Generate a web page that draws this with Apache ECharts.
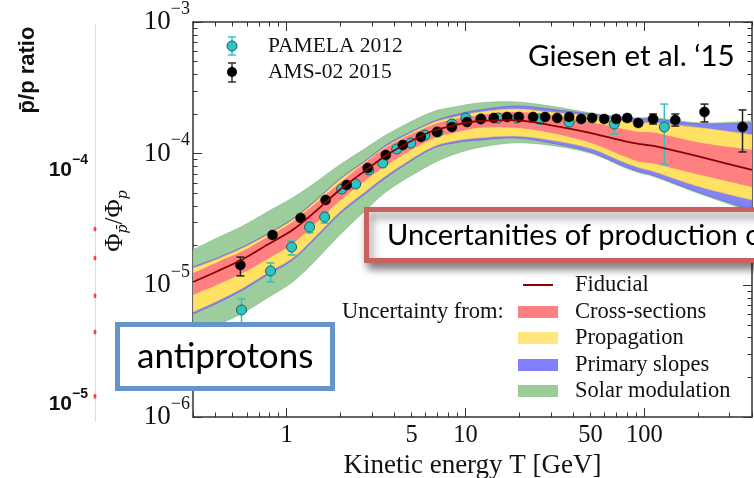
<!DOCTYPE html>
<html><head><meta charset="utf-8">
<script src="https://cdn.jsdelivr.net/npm/echarts@6/dist/echarts.min.js"></script>
<style>html,body{margin:0;padding:0;background:#fff}#c{width:754px;height:478px}</style>
</head><body><div id="c"></div>
<script>
// ---------- data ----------
const bandT      = [0.3, 0.41, 0.57, 0.78, 1.08, 1.44, 1.98, 2.74, 3.78, 6.33, 8.73, 12.1, 18.9, 29.7, 49.8, 76.3, 95, 115, 206, 400];
const fiducial   = [1.06e-5,1.28e-5,1.58e-5,2.03e-5,2.63e-5,3.61e-5,5.30e-5,7.39e-5,1.01e-4,1.46e-4,1.65e-4,1.77e-4,1.80e-4,1.65e-4,1.44e-4,1.25e-4,1.18e-4,1.14e-4,9.44e-5,7.52e-5];
const crossHigh  = [1.24e-5,1.50e-5,1.82e-5,2.33e-5,3.03e-5,4.15e-5,5.99e-5,8.50e-5,1.16e-4,1.62e-4,1.83e-4,1.97e-4,2.07e-4,1.97e-4,1.74e-4,1.54e-4,1.46e-4,1.44e-4,1.21e-4,1.07e-4];
const crossLow   = [8.45e-6,1.01e-5,1.24e-5,1.58e-5,2.06e-5,2.92e-5,4.37e-5,6.20e-5,8.50e-5,1.27e-4,1.44e-4,1.57e-4,1.57e-4,1.44e-4,1.21e-4,9.60e-5,8.65e-5,8.35e-5,6.89e-5,5.58e-5];
const propHigh   = [1.35e-5,1.58e-5,1.92e-5,2.41e-5,3.13e-5,4.30e-5,6.31e-5,8.65e-5,1.18e-4,1.68e-4,1.90e-4,2.07e-4,2.18e-4,2.07e-4,1.93e-4,1.77e-4,1.71e-4,1.71e-4,1.57e-4,1.39e-4];
const propLow    = [6.28e-6,7.61e-6,9.55e-6,1.24e-5,1.61e-5,2.33e-5,3.61e-5,5.12e-5,7.13e-5,1.10e-4,1.25e-4,1.32e-4,1.36e-4,1.27e-4,1.10e-4,8.65e-5,7.79e-5,7.26e-5,5.58e-5,4.45e-5];
const slopeHigh  = [1.38e-5,1.61e-5,1.96e-5,2.45e-5,3.19e-5,4.37e-5,6.42e-5,8.80e-5,1.21e-4,1.71e-4,1.97e-4,2.15e-4,2.30e-4,2.18e-4,2.00e-4,1.87e-4,1.83e-4,1.83e-4,1.68e-4,1.71e-4];
const slopeLow   = [6.06e-6,7.34e-6,9.22e-6,1.20e-5,1.56e-5,2.25e-5,3.48e-5,4.94e-5,6.89e-5,1.07e-4,1.21e-4,1.27e-4,1.32e-4,1.21e-4,1.03e-4,8.06e-5,7.26e-5,6.77e-5,5.03e-5,3.73e-5];
const solarHigh  = [1.86e-5,2.29e-5,2.82e-5,3.61e-5,4.61e-5,5.99e-5,8.21e-5,1.09e-4,1.44e-4,2.04e-4,2.26e-4,2.43e-4,2.47e-4,2.30e-4,2.04e-4,1.90e-4,1.87e-4,1.87e-4,1.71e-4,1.77e-4];
const solarLow   = [4.20e-6,5.00e-6,6.17e-6,8.02e-6,1.06e-5,1.53e-5,2.41e-5,3.67e-5,5.39e-5,8.21e-5,9.94e-5,1.12e-4,1.21e-4,1.16e-4,1.01e-4,7.92e-5,7.13e-5,6.65e-5,4.94e-5,3.61e-5];

const pamelaT  = [0.560,0.814,1.067,1.345,1.633,2.033,2.435,2.88,3.45,4.13,4.95,5.93,7.01,8.40,10.06,12.2,15.2,19.4,26.1,38.0,67.9,129.4];
const pamelaR  = [6.50e-6,1.285e-5,1.955e-5,2.77e-5,3.30e-5,5.39e-5,5.88e-5,7.52e-5,8.49e-5,1.085e-4,1.205e-4,1.386e-4,1.461e-4,1.68e-4,1.866e-4,1.834e-4,1.866e-4,1.866e-4,1.834e-4,1.74e-4,1.68e-4,1.594e-4];
const pamelaLo = [5.0e-6,1.06e-5,1.70e-5,2.50e-5,2.97e-5,5.1e-5,5.6e-5,7.1e-5,8.0e-5,1.03e-4,1.14e-4,1.31e-4,1.38e-4,1.59e-4,1.77e-4,1.74e-4,1.77e-4,1.77e-4,1.68e-4,1.567e-4,1.41e-4,8.34e-5];
const pamelaHi = [7.87e-6,1.478e-5,2.17e-5,3.03e-5,3.61e-5,5.7e-5,6.2e-5,7.9e-5,9.0e-5,1.14e-4,1.27e-4,1.46e-4,1.54e-4,1.77e-4,1.96e-4,1.93e-4,1.96e-4,1.96e-4,1.97e-4,1.93e-4,1.90e-4,2.38e-4];

const amsT  = [0.552,0.835,1.198,1.654,2.169,2.843,3.586,4.466,5.633,6.924,8.40,10.2,12.2,14.4,17.1,19.9,23.9,27.9,32.6,38.0,44.4,51.1,59.7,69.7,80.3,92.5,112,149,217,354];
const amsR  = [1.427e-5,2.41e-5,3.25e-5,4.45e-5,5.78e-5,7.78e-5,9.77e-5,1.163e-4,1.338e-4,1.461e-4,1.594e-4,1.74e-4,1.834e-4,1.866e-4,1.899e-4,1.90e-4,1.90e-4,1.90e-4,1.866e-4,1.90e-4,1.834e-4,1.866e-4,1.834e-4,1.834e-4,1.866e-4,1.71e-4,1.834e-4,1.80e-4,2.07e-4,1.594e-4];
const amsLo = [1.18e-5,2.30e-5,3.13e-5,4.30e-5,5.60e-5,7.55e-5,9.50e-5,1.13e-4,1.30e-4,1.42e-4,1.55e-4,1.69e-4,1.78e-4,1.81e-4,1.84e-4,1.84e-4,1.84e-4,1.84e-4,1.80e-4,1.83e-4,1.76e-4,1.79e-4,1.75e-4,1.74e-4,1.76e-4,1.62e-4,1.68e-4,1.62e-4,1.74e-4,1.03e-4];
const amsHi = [1.64e-5,2.52e-5,3.37e-5,4.60e-5,5.96e-5,8.01e-5,1.00e-4,1.20e-4,1.38e-4,1.50e-4,1.64e-4,1.79e-4,1.89e-4,1.92e-4,1.96e-4,1.96e-4,1.96e-4,1.97e-4,1.94e-4,1.98e-4,1.92e-4,1.96e-4,1.94e-4,1.95e-4,1.98e-4,1.81e-4,2.00e-4,2.00e-4,2.38e-4,2.15e-4];

// partially visible neighbouring panel (p-bar/p ratio)
const leftPanelR = [5.60e-5,4.21e-5,2.90e-5,2.03e-5,1.08e-5];

// tick labels
const xTickLabels = [1, 5, 10, 50, 100];
const yTickLabels = [1e-6, 1e-5, 1e-4, 1e-3];
const leftPanelTicks = [1e-5, 1e-4];
const xRange = [0.3, 400];
const yRange = [1e-6, 1e-3];

// ---------- helpers ----------
const L = Math.log10;
const xMajor = [1, 10, 100].map(L);
const xMinor = [];
[0.1, 1, 10, 100].forEach(d => { for (let k = 2; k <= 9; k++) { const v = k * d; if (v >= xRange[0] && v <= xRange[1]) xMinor.push(L(v)); } });
const yMajor = yTickLabels.map(L);
const yMinor = [];
[1e-6, 1e-5, 1e-4].forEach(d => { for (let k = 2; k <= 9; k++) yMinor.push(L(k * d)); });

function crPath(pts, move) {
  let d = (move ? 'M' : 'L') + pts[0][0] + ',' + pts[0][1];
  for (let i = 0; i < pts.length - 1; i++) {
    const p0 = pts[Math.max(0, i - 1)], p1 = pts[i], p2 = pts[i + 1], p3 = pts[Math.min(pts.length - 1, i + 2)];
    const c1 = [p1[0] + (p2[0] - p0[0]) / 6, p1[1] + (p2[1] - p0[1]) / 6];
    const c2 = [p2[0] - (p3[0] - p1[0]) / 6, p2[1] - (p3[1] - p1[1]) / 6];
    d += ' C' + c1[0] + ',' + c1[1] + ' ' + c2[0] + ',' + c2[1] + ' ' + p2[0] + ',' + p2[1];
  }
  return d;
}
function bandSeries(name, lo, hi, fill, stroke, lw) {
  return {
    type: 'custom', name, xAxisIndex: 0, yAxisIndex: 0, silent: true, clip: true,
    data: [[L(bandT[0]), L(hi[0])]],
    renderItem: (params, api) => {
      const up = bandT.map((t, i) => api.coord([L(t), L(hi[i])]));
      const dn = bandT.map((t, i) => api.coord([L(t), L(lo[i])])).reverse();
      const d = crPath(up, true) + ' ' + crPath(dn, false) + ' Z';
      return { type: 'path', shape: { pathData: d }, style: { fill, stroke, lineWidth: lw } };
    }
  };
}
function errSeries(T, lo, hi, color) {
  return {
    type: 'custom', xAxisIndex: 0, yAxisIndex: 0, silent: true, clip: true,
    data: T.map((t, i) => [L(t), L(lo[i]), L(hi[i])]),
    encode: { x: 0, y: [1, 2] },
    renderItem: (params, api) => {
      const x = api.value(0);
      const a = api.coord([x, api.value(1)]);
      const b = api.coord([x, api.value(2)]);
      const w = 4, st = { stroke: color, lineWidth: 1.5 };
      return { type: 'group', children: [
        { type: 'line', shape: { x1: a[0], y1: a[1], x2: b[0], y2: b[1] }, style: st },
        { type: 'line', shape: { x1: a[0] - w, y1: a[1], x2: a[0] + w, y2: a[1] }, style: st },
        { type: 'line', shape: { x1: b[0] - w, y1: b[1], x2: b[0] + w, y2: b[1] }, style: st }
      ] };
    }
  };
}

const SERIF = 'Liberation Serif';
const SANS = 'Lato';
const frame = { show: true, onZero: false, lineStyle: { color: '#333', width: 1.5 } };
const noLine = { show: false, onZero: false };

function xAx(pos, ticks, len, line, labels) {
  const o = {
    type: 'value', gridIndex: 0, position: pos, min: L(xRange[0]), max: L(xRange[1]),
    axisLine: line ? frame : noLine, splitLine: { show: false },
    axisTick: { show: true, inside: true, length: len, customValues: ticks, lineStyle: { color: '#333', width: 1 } },
    axisLabel: { show: false }
  };
  if (labels) {
    o.axisLabel = { show: true, customValues: xTickLabels.map(L), margin: 6,
      formatter: v => String(Math.round(Math.pow(10, v))),
      fontFamily: SERIF, fontSize: 24.5, color: '#111' };
    o.name = 'Kinetic energy T [GeV]'; o.nameLocation = 'middle'; o.nameGap = 27;
    o.nameTextStyle = { fontFamily: SERIF, fontSize: 27, color: '#111', verticalAlign: 'top' };
  }
  return o;
}
function yAx(pos, ticks, len, line, labels) {
  const o = {
    type: 'value', gridIndex: 0, position: pos, min: L(yRange[0]), max: L(yRange[1]),
    axisLine: line ? frame : noLine, splitLine: { show: false },
    axisTick: { show: true, inside: true, length: len, customValues: ticks, lineStyle: { color: '#333', width: 1 } },
    axisLabel: { show: false }
  };
  if (labels) {
    o.axisLabel = { show: true, customValues: yTickLabels.map(L), margin: 3,
      formatter: v => '{b|10}{s|\u2212' + Math.round(-v) + '}',
      rich: { b: { fontFamily: SERIF, fontSize: 27, lineHeight: 44, color: '#111' },
              s: { fontFamily: SERIF, fontSize: 18, verticalAlign: 'top', lineHeight: 21, color: '#111' } } };
  }
  return o;
}

const option = {
  backgroundColor: '#fff',
  animation: false,
  grid: [
    { left: 193, right: 2, top: 22, bottom: 61, outerBoundsMode: 'none', containLabel: false },
    { left: 95, top: 24, width: 300, height: 397, outerBoundsMode: 'none', containLabel: false }
  ],
  xAxis: [
    xAx('bottom', xMajor, 9, true, true),
    xAx('bottom', xMinor, 4.5, false, false),
    xAx('top', xMajor, 9, true, false),
    xAx('top', xMinor, 4.5, false, false),
    { type: 'value', gridIndex: 1, min: 0, max: 1, show: false }
  ],
  yAxis: [
    yAx('left', yMajor, 9, true, true),
    yAx('left', yMinor, 4.5, false, false),
    yAx('right', yMajor, 9, true, false),
    yAx('right', yMinor, 4.5, false, false),
    { type: 'value', gridIndex: 1, position: 'left', min: -5.0726, max: -3.376,
      axisLine: { show: true, onZero: false, lineStyle: { color: '#dcdcdc', width: 1 } },
      axisTick: { show: false }, splitLine: { show: false },
      axisLabel: { show: true, customValues: leftPanelTicks.map(L), margin: 7,
        formatter: v => '{b|10}{s|\u2212' + Math.round(-v) + '}',
        rich: { b: { fontFamily: 'Liberation Sans', fontWeight: 'bold', fontSize: 21, lineHeight: 34, color: '#111' },
                s: { fontFamily: 'Liberation Sans', fontWeight: 'bold', fontSize: 14, verticalAlign: 'top', lineHeight: 16, color: '#111' } } } }
  ],
  series: [
    bandSeries('Solar modulation', solarLow, solarHigh, '#9dcc9d', '#8cc08c', 0.8),
    bandSeries('Primary slopes', slopeLow, slopeHigh, '#8383f5', '#7474e0', 1),
    bandSeries('Propagation', propLow, propHigh, '#ffe264', '#f5c84a', 0.6),
    bandSeries('Cross-sections', crossLow, crossHigh, '#ff8080', null, 0),
    { type: 'line', name: 'Fiducial', xAxisIndex: 0, yAxisIndex: 0, smooth: 0.3, symbol: 'none', silent: true,
      data: bandT.map((t, i) => [L(t), L(fiducial[i])]), lineStyle: { color: '#8b0000', width: 1.8 } },
    errSeries(pamelaT, pamelaLo, pamelaHi, '#2ec4c4'),
    errSeries(amsT, amsLo, amsHi, '#222'),
    { type: 'scatter', name: 'PAMELA 2012', xAxisIndex: 0, yAxisIndex: 0, symbolSize: 10, silent: true,
      data: pamelaT.map((t, i) => [L(t), L(pamelaR[i])]),
      itemStyle: { color: '#2ec4c4', borderColor: '#1b5f5f', borderWidth: 1, opacity: 1 } },
    { type: 'scatter', name: 'AMS-02 2015', xAxisIndex: 0, yAxisIndex: 0, symbolSize: 10, silent: true,
      data: amsT.map((t, i) => [L(t), L(amsR[i])]),
      itemStyle: { color: '#000', borderColor: '#000', borderWidth: 0.5, opacity: 1 } },
    { type: 'scatter', name: 'p/p ratio', xAxisIndex: 4, yAxisIndex: 4, symbolSize: [3, 5], silent: true,
      data: leftPanelR.map(r => [0, L(r)]), itemStyle: { color: '#ff1a1a' } }
  ],
  graphic: [
    // neighbouring panel title
    { type: 'text', x: 28, y: 70, rotation: Math.PI / 2, z: 100,
      style: { text: 'p\u0304/p ratio', fontFamily: 'Liberation Sans', fontWeight: 'bold', fontSize: 22, fill: '#111', align: 'center', verticalAlign: 'middle' } },
    // y axis title
    { type: 'text', x: 115, y: 221, rotation: Math.PI / 2, z: 100,
      style: { text: '{a|\u03A6}{s|p\u0304}{a|/\u03A6}{s|p}', align: 'center', verticalAlign: 'middle',
        rich: { a: { fontFamily: SERIF, fontSize: 25, lineHeight: 30, fill: '#111', verticalAlign: 'middle' },
                s: { fontFamily: 'DejaVu Serif', fontStyle: 'italic', fontSize: 14, lineHeight: 16, fill: '#111', verticalAlign: 'bottom' } } } },
    // data legend
    { type: 'line', z: 100, shape: { x1: 232, y1: 37, x2: 232, y2: 55 }, style: { stroke: '#2ec4c4', lineWidth: 1.5 } },
    { type: 'line', z: 100, shape: { x1: 228, y1: 37, x2: 236, y2: 37 }, style: { stroke: '#2ec4c4', lineWidth: 1.5 } },
    { type: 'line', z: 100, shape: { x1: 228, y1: 55, x2: 236, y2: 55 }, style: { stroke: '#2ec4c4', lineWidth: 1.5 } },
    { type: 'circle', z: 101, shape: { cx: 232, cy: 46, r: 5 }, style: { fill: '#2ec4c4', stroke: '#1b5f5f', lineWidth: 1 } },
    { type: 'text', z: 100, x: 268, y: 46, style: { text: 'PAMELA 2012', fontFamily: SERIF, fontSize: 21.5, fill: '#111', verticalAlign: 'middle' } },
    { type: 'line', z: 100, shape: { x1: 232, y1: 63, x2: 232, y2: 82 }, style: { stroke: '#333', lineWidth: 1.5 } },
    { type: 'line', z: 100, shape: { x1: 228, y1: 63, x2: 236, y2: 63 }, style: { stroke: '#333', lineWidth: 1.5 } },
    { type: 'line', z: 100, shape: { x1: 228, y1: 82, x2: 236, y2: 82 }, style: { stroke: '#333', lineWidth: 1.5 } },
    { type: 'circle', z: 101, shape: { cx: 232, cy: 72, r: 5 }, style: { fill: '#000' } },
    { type: 'text', z: 100, x: 268, y: 72, style: { text: 'AMS-02 2015', fontFamily: SERIF, fontSize: 21.5, fill: '#111', verticalAlign: 'middle' } },
    // citation
    { type: 'text', z: 100, x: 528, y: 56, style: { text: 'Giesen et al. \u201815', fontFamily: SANS, fontSize: 29.5, fill: '#000', verticalAlign: 'middle' } },
    // model legend
    { type: 'line', z: 100, shape: { x1: 523, y1: 285, x2: 553, y2: 285 }, style: { stroke: '#8b0000', lineWidth: 2 } },
    { type: 'text', z: 100, x: 575, y: 285, style: { text: 'Fiducial', fontFamily: SERIF, fontSize: 22.5, fill: '#111', verticalAlign: 'middle' } },
    { type: 'text', z: 100, x: 342, y: 312, style: { text: 'Uncertainty from:', fontFamily: SERIF, fontSize: 22.5, fill: '#111', verticalAlign: 'middle' } },
    { type: 'rect', z: 100, shape: { x: 518, y: 306, width: 40, height: 12 }, style: { fill: '#ff8080' } },
    { type: 'text', z: 100, x: 575, y: 312, style: { text: 'Cross-sections', fontFamily: SERIF, fontSize: 22.5, fill: '#111', verticalAlign: 'middle' } },
    { type: 'rect', z: 100, shape: { x: 518, y: 332, width: 40, height: 12 }, style: { fill: '#ffe680' } },
    { type: 'text', z: 100, x: 575, y: 338, style: { text: 'Propagation', fontFamily: SERIF, fontSize: 22.5, fill: '#111', verticalAlign: 'middle' } },
    { type: 'rect', z: 100, shape: { x: 518, y: 359, width: 40, height: 12 }, style: { fill: '#8080ff' } },
    { type: 'text', z: 100, x: 575, y: 365, style: { text: 'Primary slopes', fontFamily: SERIF, fontSize: 22.5, fill: '#111', verticalAlign: 'middle' } },
    { type: 'rect', z: 100, shape: { x: 518, y: 385, width: 40, height: 12 }, style: { fill: '#99cc99' } },
    { type: 'text', z: 100, x: 575, y: 391, style: { text: 'Solar modulation', fontFamily: SERIF, fontSize: 22.5, fill: '#111', verticalAlign: 'middle' } },
    // overlay callouts
    { type: 'rect', z: 110, shape: { x: 366.5, y: 209.5, width: 420, height: 51 },
      style: { fill: '#fff', stroke: '#c8625c', lineWidth: 5, shadowBlur: 8, shadowOffsetX: 3, shadowOffsetY: 6, shadowColor: 'rgba(0,0,0,0.45)' } },
    { type: 'text', z: 111, x: 387, y: 236, style: { text: 'Uncertanities of production c', fontFamily: SANS, fontSize: 29, fill: '#000', verticalAlign: 'middle' } },
    { type: 'rect', z: 110, shape: { x: 117.5, y: 324.5, width: 215, height: 64 },
      style: { fill: '#fff', stroke: '#6595c8', lineWidth: 5 } },
    { type: 'text', z: 111, x: 137, y: 357, style: { text: 'antiprotons', fontFamily: SANS, fontSize: 35, fill: '#000', verticalAlign: 'middle' } }
  ]
};
const chart = echarts.init(document.getElementById('c'), null, { renderer: 'canvas' });
chart.setOption(option);
</script></body></html>
